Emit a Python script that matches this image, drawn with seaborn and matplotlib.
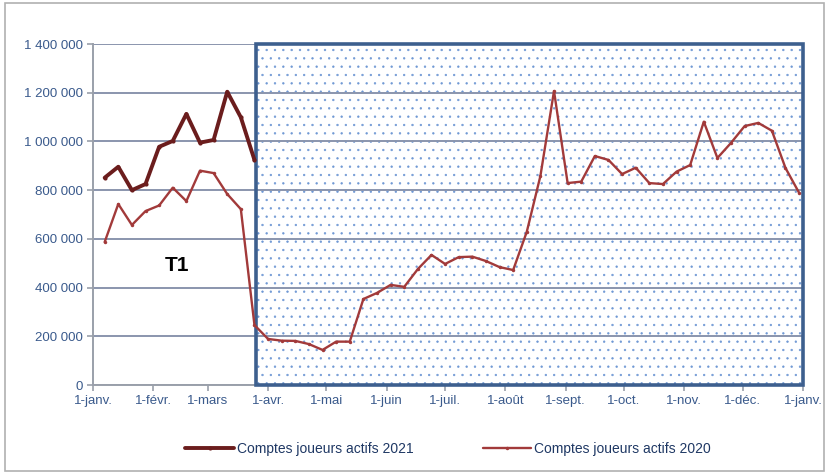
import numpy as np
import pandas as pd
import matplotlib
matplotlib.use('Agg')
import matplotlib.pyplot as plt
import matplotlib.dates as mdates
from matplotlib.patches import Rectangle
from matplotlib.ticker import FuncFormatter
import seaborn as sns

# Données (points hebdomadaires)
actifs_2021 = [851000, 896000, 800000, 825000, 978000, 1002000, 1113000, 995000,
               1006000, 1204000, 1099000, 924000]
actifs_2020 = [587000, 743000, 657000, 714000, 737000, 810000, 755000, 880000,
               870000, 784000, 722000, 246000, 189000, 182000, 181000, 168000,
               144000, 178000, 178000, 353000, 378000, 411000, 403000, 476000,
               534000, 497000, 525000, 527000, 509000, 484000, 472000, 629000,
               858000, 1207000, 829000, 835000, 940000, 924000, 866000, 892000,
               829000, 825000, 876000, 903000, 1081000, 932000, 994000, 1063000,
               1076000, 1044000, 891000, 789000]
mois = ['1-janv.', '1-févr.', '1-mars', '1-avr.', '1-mai', '1-juin', '1-juil.',
        '1-août', '1-sept.', '1-oct.', '1-nov.', '1-déc.', '1-janv.']
semaines = pd.date_range('2021-01-07', periods=52, freq='7D')

df21 = pd.DataFrame({'date': semaines[:len(actifs_2021)], 'val': actifs_2021})
df20 = pd.DataFrame({'date': semaines, 'val': actifs_2020})

sns.set_style('white')
plt.rcParams['font.family'] = ['Liberation Sans', 'DejaVu Sans']
plt.rcParams['hatch.linewidth'] = 0.45

fig = plt.figure(figsize=(8.27, 4.73), dpi=100)
ax = fig.add_axes([93 / 827, 1 - 385 / 473, 710 / 827, 341 / 473])

x0 = mdates.date2num(pd.Timestamp('2021-01-01'))
x1 = mdates.date2num(pd.Timestamp('2022-01-01'))
xb = mdates.date2num(pd.Timestamp('2021-03-26'))

# zone hachurée (confinement)
ax.add_patch(Rectangle((xb, 0), x1 - xb, 1400000, facecolor='white',
                       edgecolor='#6f98d4', hatch='..', lw=0, zorder=0.2))
ax.add_patch(Rectangle((xb, 0), x1 - xb, 1400000, fill=False,
                       edgecolor='#3d5f8e', lw=2.6, zorder=3, clip_on=False))

sns.lineplot(data=df21, x='date', y='val', ax=ax, color='#6b1d1d', lw=2.8,
             marker='o', markersize=3, markeredgewidth=0, zorder=5,
             label='Comptes joueurs actifs 2021')
sns.lineplot(data=df20, x='date', y='val', ax=ax, color='#a23a3a', lw=1.7,
             marker='o', markersize=2.5, markeredgewidth=0, zorder=4,
             label='Comptes joueurs actifs 2020')

ax.set_xlim(x0, x1)
ax.set_ylim(0, 1400000)
ax.set_yticks(np.arange(0, 1400001, 200000))
ax.yaxis.set_major_formatter(FuncFormatter(lambda v, p: f'{int(v):,}'.replace(',', ' ')))
ticks = [mdates.date2num(pd.Timestamp(2021, m, 1)) for m in range(1, 13)] + [x1]
ax.set_xticks(ticks)
ax.set_xticklabels(mois)

ax.grid(axis='y', color='#8a95ad', lw=1.4)
ax.set_axisbelow(True)
for s in ['top', 'right']:
    ax.spines[s].set_visible(False)
for s in ['left', 'bottom']:
    ax.spines[s].set_color('#9aa0aa')
    ax.spines[s].set_linewidth(1.4)
ax.tick_params(axis='both', colors='#9aa0aa', length=4, width=1.2, labelsize=9.5,
               labelcolor='#3a5a8c', direction='out', bottom=True, left=True)
ax.set_xlabel('')
ax.set_ylabel('')

ax.text(mdates.date2num(pd.Timestamp('2021-02-13')), 490000, 'T1',
        fontsize=15, fontweight='bold', color='black', ha='center', va='center')

leg = ax.legend(loc='upper center', bbox_to_anchor=(0.5, -0.13), ncol=2,
                frameon=False, fontsize=10, handlelength=3.5, columnspacing=5,
                handletextpad=0.2)
for t in leg.get_texts():
    t.set_color('#1f3864')

fig.patches.append(Rectangle((0.006, 0.004), 0.99, 0.99, transform=fig.transFigure,
                             fill=False, edgecolor='#b0b0b0', lw=1.2))

fig.savefig('out.png', dpi=100)
